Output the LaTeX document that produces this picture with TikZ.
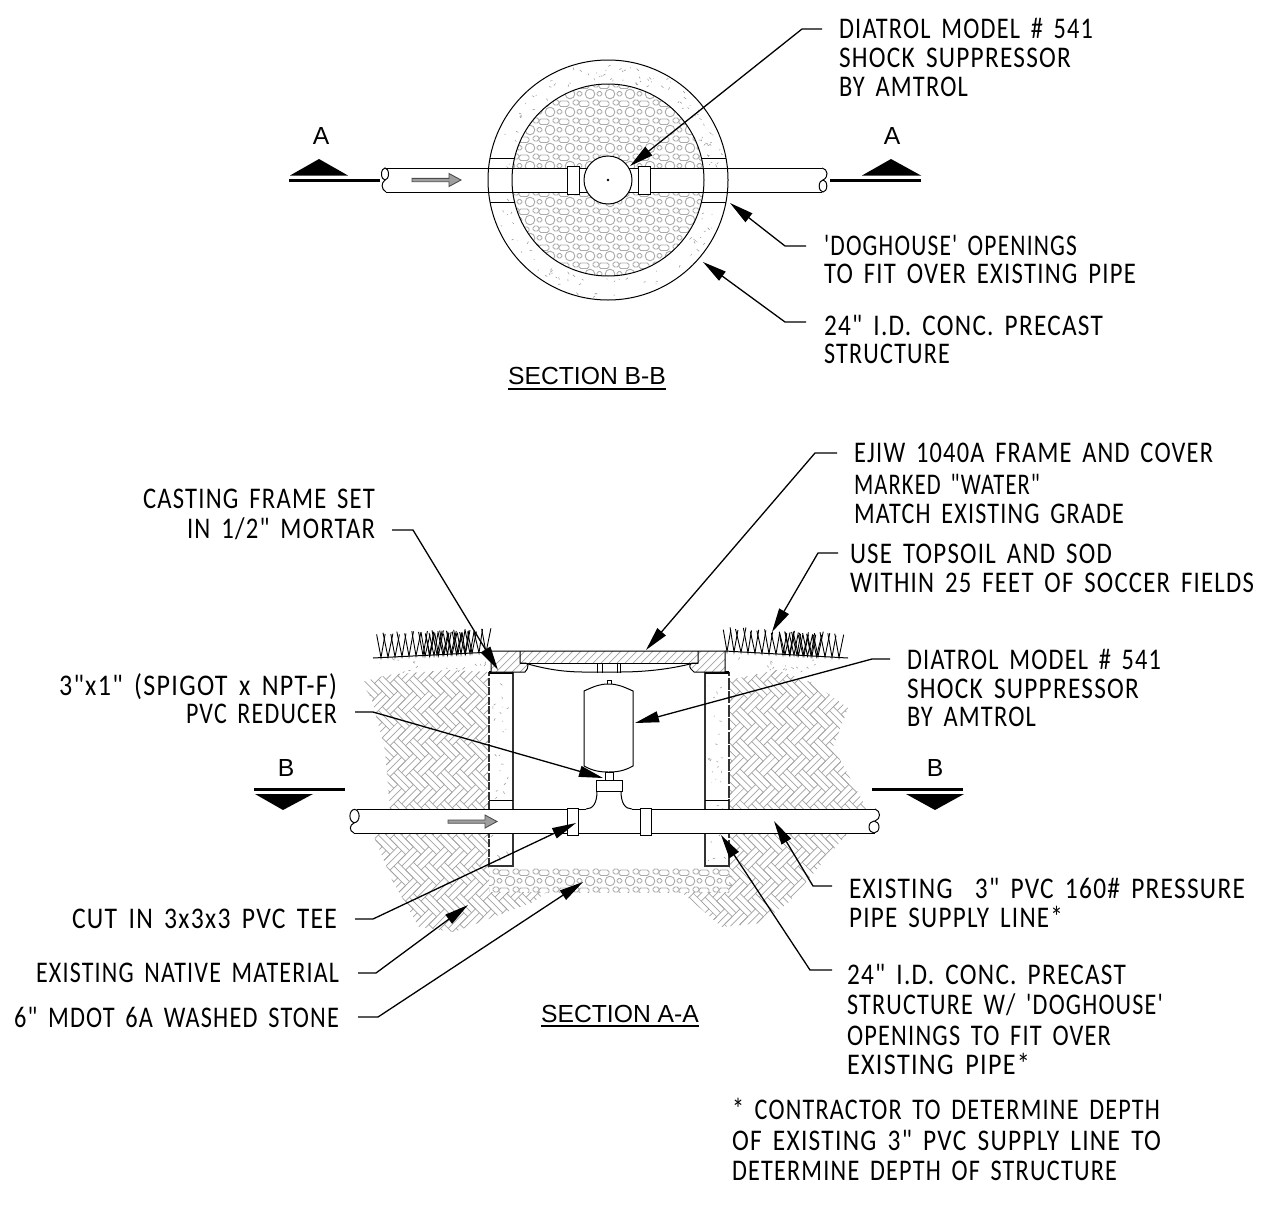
\documentclass[tikz,border=0pt]{standalone}
\usepackage{fontspec}
\usepackage{graphicx}
\usetikzlibrary{arrows.meta}
\setmainfont{Liberation Sans}
\newfontfamily\cadfont[LetterSpace=5,WordSpace=1.6]{Carlito}
\newcommand{\cadline}[5]{\node[cadtext] (#1) at ({#2},{#3-1}) {\resizebox{#4pt}{\height}{\cadfont\fontsize{30}{30}\selectfont #5}};}
\newcommand{\hatchtile}{\draw[hatchline] (0,0)--(22,0) (0,5.5)--(22,5.5) (0,11)--(22,11) (22,-11)--(22,11) (27.5,-11)--(27.5,11) (33,-11)--(33,11);}
\newcommand{\graveltile}{\draw[gravelline,rounded corners=1.8pt] (0,0) circle (4.8) (-11,-11) rectangle ++(10,5.5) (3,-12) rectangle ++(6,5) (7,-2.5) rectangle ++(5,4.5);}
% speckles in a rectangle: count, x0, y0, width, height
\newcommand{\speckbox}[5]{\foreach \n in {1,...,#1}{
  \pgfmathsetmacro{\px}{#2+rnd*#4}\pgfmathsetmacro{\py}{#3+rnd*#5}
  \pgfmathsetmacro{\dx}{rnd*5-2.5}\pgfmathsetmacro{\dy}{rnd*5-2.5}
  \draw[speck] (\px,\py) -- ++(\dx,\dy);}}
% grass zigzag: x0,y0,x1,y1,step,height
\newcommand{\grass}[6]{
  \pgfmathsetmacro{\nsteps}{int((#3-#1)/#5)}
  \foreach \k in {0,...,\nsteps}{
    \pgfmathsetmacro{\bx}{#1+\k*#5}
    \pgfmathsetmacro{\by}{#2+(#4-#2)*\k/\nsteps}
    \pgfmathsetmacro{\tA}{\bx-3.5-rnd*2}\pgfmathsetmacro{\tB}{\bx+3.5+rnd*2}
    \pgfmathsetmacro{\hA}{\by-#6+rnd*4}\pgfmathsetmacro{\hB}{\by-#6+rnd*4}
    \draw[grassline] (\tA,\hA) -- (\bx,\by) -- (\tB,\hB);
  }}
\tikzset{
  x=1pt,y=-1pt,
  cadtext/.style={anchor=base west,inner sep=0pt,outer sep=0pt,text=black},
  titletext/.style={anchor=base,inner sep=0pt,font=\fontsize{24.7}{25}\selectfont},
  part/.style={draw=black,line width=1pt},
  whitepart/.style={draw=black,line width=1pt,fill=white},
  wallline/.style={draw=black!80,line width=1.3pt,fill=white},
  hatchline/.style={draw=black!36,line width=.7pt},
  gravelline/.style={draw=black!33,line width=.9pt},
  speck/.style={draw=black!40,line width=.55pt},
  grassline/.style={draw=black,line width=.9pt,line join=miter},
  leader/.style={draw=black,line width=1.3pt,-{Triangle[length=24pt,width=11pt]}},
  secmark/.style={fill=black},
  secline/.style={draw=black,line width=3pt},
  flowarrow/.style={draw=black!70,fill=black!38,line width=.9pt},
}
\begin{document}
\begin{tikzpicture}
\useasboundingbox (0,0) rectangle (1274,1205);
\fill[white] (0,0) rectangle (1274,1205);
\pgfmathsetseed{4711}
%%% ===== SECTION B-B (plan) =====
% ring speckles
\foreach \n in {1,...,150}{
  \pgfmathsetmacro{\aa}{rnd*360}\pgfmathsetmacro{\rr}{99+rnd*18}
  \pgfmathsetmacro{\px}{608+\rr*cos(\aa)}\pgfmathsetmacro{\py}{180+\rr*sin(\aa)}
  \pgfmathsetmacro{\dx}{rnd*5-2.5}\pgfmathsetmacro{\dy}{rnd*5-2.5}
  \draw[speck] (\px,\py) -- ++(\dx,\dy);
}
% gravel inside the ring
\begin{scope}
  \clip (608,180) circle (96);
  \foreach \i in {0,...,10}{\foreach \j in {0,...,11}{
    \begin{scope}[shift={(510+\i*20,76+\j*18)}]\graveltile\end{scope}
  }}
\end{scope}
% pipe through the structure
\fill[white] (384,168) rectangle (824,192);
\draw[part] (386,168) -- (822,168) (386,192) -- (822,192);
\draw[part,fill=white] (385,174) ellipse (3.5 and 6);
\draw[part] (385,180) .. controls (381,183) and (381,189) .. (386,192);
\draw[part,fill=white] (823,186) ellipse (3.8 and 6);
\draw[part] (822,168) .. controls (828,169) and (829,177) .. (823,180);
% structure
\draw[part] (608,180) circle (120) (608,180) circle (96);
\draw[part] (490,158) -- (514.6,158) (490,202) -- (514.6,202) (701.4,158) -- (726,158) (701.4,202) -- (726,202);
% tee, couplers
\node[whitepart,circle,minimum size=48pt,inner sep=0pt] (hub) at (608,180) {};
\fill (608,180) circle (1.4);
\draw[whitepart] (567,166) rectangle (579,194);
\draw[whitepart] (638,166) rectangle (650,194);
\draw[flowarrow] (412,178.3) -- (449,178.3) -- (449,173.5) -- (461,180) -- (449,186.5) -- (449,181.7) -- (412,181.7) -- cycle;
% section marks A
\draw[secline] (289,180) -- (380,180);
\fill[secmark] (319,159) -- (348,175.5) -- (290,175.5) -- cycle;
\draw[secline] (830,180) -- (921,180);
\fill[secmark] (891,159) -- (921,175.5) -- (862,175.5) -- cycle;
\node[titletext] (la) at (321,144) {A};
\node[titletext] (lb) at (892,144) {A};
% leaders
\coordinate (a1) at (822,29); \coordinate (a1k) at (802,29); \coordinate (a1t) at (630,166);
\coordinate (a2) at (806,246); \coordinate (a2k) at (785,246); \coordinate (a2t) at (730,203);
\coordinate (a3) at (806,322); \coordinate (a3k) at (785,322); \coordinate (a3t) at (703,262);
\draw[leader] (a1) -- (a1k) -- (a1t);
\draw[leader] (a2) -- (a2k) -- (a2t);
\draw[leader] (a3) -- (a3k) -- (a3t);
% texts
\cadline{t1}{839}{39}{254}{DIATROL MODEL \# 541}
\cadline{t2}{839}{68}{232}{SHOCK SUPPRESSOR}
\cadline{t3}{839}{97}{129}{BY AMTROL}
\cadline{t4}{824}{256}{253}{'DOGHOUSE' OPENINGS}
\cadline{t5}{824}{284}{312}{TO FIT OVER EXISTING PIPE}
\cadline{t6}{824}{336}{279}{24" I.D. CONC. PRECAST}
\cadline{t7}{824}{364}{126}{STRUCTURE}
\node[titletext] (sb) at (587,384) {SECTION B-B};
\draw[line width=1.3pt] (508,389) -- (666,389);

%%% ===== SECTION A-A (elevation) =====
% native material hatch
\begin{scope}
  \clip (362,682) -- (387,675) -- (447,670) -- (489,672) -- (489,809) -- (390,809) -- (385,750) -- (372,700) -- cycle
        (729,680) -- (777,670) -- (813,683) -- (848,708) -- (833,747) -- (867,809) -- (729,809) -- cycle
        (373,834) -- (489,834) -- (489,892) -- (547,892) -- (533,902) -- (454,932) -- (419,927) -- (392,880) -- cycle
        (729,834) -- (847,834) -- (788,903) -- (760,923) -- (722,927) -- (685,895) -- (680,892) -- (729,892) -- cycle;
  \begin{scope}[shift={(600,800)},rotate=45]
    \foreach \i in {-25,...,25}{\foreach \j in {-13,...,13}{
      \begin{scope}[shift={(\i*11+\j*22,\i*11-\j*22)}]\hatchtile\end{scope}
    }}
  \end{scope}
\end{scope}
% soil speckles
\speckbox{16}{378}{660}{108}{12}
\speckbox{16}{732}{657}{100}{14}
% washed stone
\begin{scope}
  \clip (489,866) rectangle (732,892);
  \foreach \i in {0,...,12}{\foreach \j in {0,1}{
    \begin{scope}[shift={(490+\i*20,881+\j*18)}]\graveltile\end{scope}
  }}
\end{scope}
% walls
\draw[wallline] (489,673) rectangle (513,866);
\draw[wallline] (705,673) rectangle (729,866);
\draw[white,line width=1.5pt,dash pattern=on 1.5pt off 8pt] (489,676) -- (489,864);
\draw[white,line width=1.5pt,dash pattern=on 1.5pt off 12pt] (729,676) -- (729,864);
\speckbox{30}{492}{678}{18}{185}
\speckbox{30}{708}{678}{18}{185}
\draw[part] (489,800) -- (513,800) (705,800) -- (729,800);
\draw[line width=2.4pt] (489,672.5) -- (513,672.5) (705,672.5) -- (729,672.5);
% casting & cover
\path[fill=white] (491,651) -- (725,651) -- (725,672) -- (694,672) -- (690,665) -- (692,663) -- (528,663) -- (525,672) -- (491,672) -- cycle;
\begin{scope}
  \clip (491,651) -- (725,651) -- (725,672) -- (694,672) -- (690,665) -- (692,663) -- (528,663) -- (525,672) -- (491,672) -- cycle;
  \foreach \s in {0,8,...,270}{\draw[hatchline] (480+\s,680) -- (512+\s,648);}
\end{scope}
\draw[part] (491,672) -- (491,651) -- (725,651) -- (725,672) -- (694,672) .. controls (692,670) and (689,668) .. (690,665) -- (692,663) -- (698,663) -- (698,651);
\draw[part] (491,672) -- (525,672) .. controls (526,670) and (529,668) .. (528,665) -- (526,663) -- (520,663) -- (520,651);
\draw[part] (520,663) -- (698,663);
\draw[part] (528,664) .. controls (560,673) and (580,672) .. (597,672) -- (620,672) .. controls (645,672) and (670,669) .. (690,664);
\draw[part] (597,663) -- (597,673) (602,663) -- (602,673) (617,663) -- (617,673) (620,663) -- (620,673);
% grass and ground
\draw[part] (373,658) -- (492,652);
\draw[part] (725,651) -- (848,658);
\grass{381}{657.5}{490}{652.5}{7}{25}
\grass{425}{656}{470}{653.5}{4.5}{25}
\grass{727}{651.5}{845}{657.5}{7}{25}
\grass{785}{654.5}{820}{656.5}{4.5}{24}
% shock suppressor
\draw[whitepart] (584,691) .. controls (595,686) and (600,684) .. (608.5,684) .. controls (617,684) and (622,686) .. (633,691) -- (633,766) .. controls (624,771) and (617,772) .. (608.5,772) .. controls (600,772) and (593,771) .. (584,766) -- cycle;
\draw[part] (607,684) -- (607,680.5) -- (611,680.5) -- (611,684);
\draw[whitepart] (605,772) rectangle (613,780);
% tee below
\path[fill=white] (597,791) .. controls (597,805) and (592,809) .. (588,809) -- (630,809) .. controls (625,809) and (621,805) .. (621,791) -- cycle;
\draw[part] (597,791) .. controls (597,803) and (593,809) .. (586,809);
\draw[part] (621,791) .. controls (621,803) and (625,809) .. (632,809);
\draw[whitepart] (596,780) rectangle (622,791);
% pipe
\fill[white] (354,809.5) rectangle (875,833);
\draw[part] (357,809) -- (586,809) (632,809) -- (875,809) (354,833) -- (875,833);
\draw[part,fill=white] (354.5,816) ellipse (4.6 and 6.6);
\draw[part] (354.5,822.6) .. controls (349,825) and (349,831) .. (354,833);
\draw[part,fill=white] (874,827) ellipse (5 and 6);
\draw[part] (875,809) .. controls (881,811) and (881,819) .. (875,821);
\draw[whitepart] (567,808) rectangle (578,835);
\draw[whitepart] (640,808) rectangle (651,835);
\draw[flowarrow] (448,820) -- (485,820) -- (485,815) -- (497,821.5) -- (485,828) -- (485,823.2) -- (448,823.2) -- cycle;
% section marks B
\draw[secline] (254,789) -- (345,789);
\fill[secmark] (255,794) -- (313,794) -- (283,810) -- cycle;
\draw[secline] (872,789) -- (963,789);
\fill[secmark] (906,794) -- (964,794) -- (935,810) -- cycle;
\node[titletext] (lc) at (286,776) {B};
\node[titletext] (ld) at (935,776) {B};
% leaders
\coordinate (b1) at (837,453); \coordinate (b1k) at (815,453); \coordinate (b1t) at (646,650);
\coordinate (b2) at (838,553); \coordinate (b2k) at (818,553); \coordinate (b2t) at (772,632);
\coordinate (b3) at (890,659); \coordinate (b3k) at (872,659); \coordinate (b3t) at (635,723);
\coordinate (b4) at (392,530); \coordinate (b4k) at (413,530); \coordinate (b4t) at (498,670);
\coordinate (b5) at (355,712); \coordinate (b5k) at (373,712); \coordinate (b5t) at (603,778);
\coordinate (b6) at (355,919); \coordinate (b6k) at (373,919); \coordinate (b6t) at (576,823);
\coordinate (b7) at (358,973); \coordinate (b7k) at (376,973); \coordinate (b7t) at (468,905);
\coordinate (b8) at (358,1017); \coordinate (b8k) at (378,1017); \coordinate (b8t) at (583,882);
\coordinate (b9) at (832,886); \coordinate (b9k) at (813,886); \coordinate (b9t) at (774,821);
\coordinate (b10) at (832,970); \coordinate (b10k) at (810,970); \coordinate (b10t) at (721,835);
\foreach \m in {1,...,10}{\draw[leader] (b\m) -- (b\m k) -- (b\m t);}
% texts
\cadline{u1}{854}{463}{359}{EJIW 1040A FRAME AND COVER}
\cadline{u2}{854}{495}{186}{MARKED "WATER"}
\cadline{u3}{854}{524}{270}{MATCH EXISTING GRADE}
\cadline{u4}{850}{564}{262}{USE TOPSOIL AND SOD}
\cadline{u5}{850}{593}{404}{WITHIN 25 FEET OF SOCCER FIELDS}
\cadline{u6}{143}{509}{232}{CASTING FRAME SET}
\cadline{u7}{187}{539}{188}{IN 1/2" MORTAR}
\cadline{u8}{907}{670}{254}{DIATROL MODEL \# 541}
\cadline{u9}{907}{699}{232}{SHOCK SUPPRESSOR}
\cadline{u10}{907}{727}{129}{BY AMTROL}
\cadline{u11}{59}{696}{278}{3"x1" (SPIGOT x NPT-F)}
\cadline{u12}{186}{724}{151}{PVC REDUCER}
\cadline{u13}{849}{899}{396}{EXISTING\ \ 3" PVC 160\# PRESSURE}
\cadline{u14}{849}{928}{214}{PIPE SUPPLY LINE*}
\cadline{u15}{72}{929}{265}{CUT IN 3x3x3 PVC TEE}
\cadline{u16}{36}{983}{303}{EXISTING NATIVE MATERIAL}
\cadline{u17}{14}{1028}{325}{6" MDOT 6A WASHED STONE}
\node[titletext] (sa) at (620,1022) {SECTION A-A};
\draw[line width=1.3pt] (541,1026) -- (699,1026);
\cadline{u18}{847}{985}{279}{24" I.D. CONC. PRECAST}
\cadline{u19}{847}{1015}{316}{STRUCTURE W/ 'DOGHOUSE'}
\cadline{u20}{847}{1046}{264}{OPENINGS TO FIT OVER}
\cadline{u21}{847}{1075}{183}{EXISTING PIPE*}
\cadline{u22}{732}{1120}{428}{* CONTRACTOR TO DETERMINE DEPTH}
\cadline{u23}{732}{1151}{429}{OF EXISTING 3" PVC SUPPLY LINE TO}
\cadline{u24}{732}{1181}{385}{DETERMINE DEPTH OF STRUCTURE}
\end{tikzpicture}
\end{document}
